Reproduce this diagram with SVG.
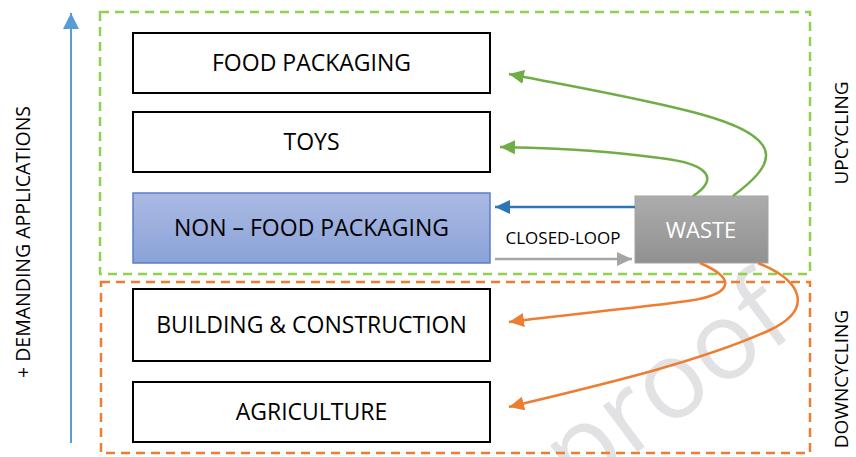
<svg xmlns="http://www.w3.org/2000/svg" width="856" height="457" viewBox="0 0 856 457">
  <defs>
    <linearGradient id="gradBlue" x1="0" y1="0" x2="0" y2="1">
      <stop offset="0" stop-color="#abbae3"/>
      <stop offset="1" stop-color="#8aa2d8"/>
    </linearGradient>
    <linearGradient id="gradGray" x1="0" y1="0" x2="0" y2="1">
      <stop offset="0" stop-color="#acacac"/>
      <stop offset="1" stop-color="#919191"/>
    </linearGradient>
    <marker id="headGreen" markerUnits="userSpaceOnUse" markerWidth="16" markerHeight="14" refX="15" refY="7" orient="auto">
      <path d="M0,0 L15,7 L0,14 Z" fill="#70ad47"/>
    </marker>
    <marker id="headOrange" markerUnits="userSpaceOnUse" markerWidth="16" markerHeight="14" refX="15" refY="7" orient="auto">
      <path d="M0,0 L15,7 L0,14 Z" fill="#ed7d31"/>
    </marker>
    <marker id="headBlue" markerUnits="userSpaceOnUse" markerWidth="16" markerHeight="14" refX="15" refY="7" orient="auto">
      <path d="M0,0 L15,7 L0,14 Z" fill="#2e75b6"/>
    </marker>
    <marker id="headGray" markerUnits="userSpaceOnUse" markerWidth="16" markerHeight="14" refX="15" refY="7" orient="auto">
      <path d="M0,0 L15,7 L0,14 Z" fill="#a5a5a5"/>
    </marker>
    <marker id="headAxis" markerUnits="userSpaceOnUse" markerWidth="18" markerHeight="16" refX="16" refY="8" orient="auto">
      <path d="M0,0 L16,8 L0,16 Z" fill="#5b9bd5"/>
    </marker>
  </defs>
  <style>
    text { font-family: "Open Sans", "Noto Sans", "Liberation Sans", sans-serif; fill: #000; }
    .box { fill: #ffffff; stroke: #000000; stroke-width: 2; }
    .label { font-size: 23px; text-anchor: middle; dominant-baseline: central; }
    .side { font-size: 19px; text-anchor: middle; dominant-baseline: central; }
    .zone { fill: none; stroke-width: 2.5; stroke-dasharray: 9 6; }
    .link { fill: none; stroke-width: 2.5; }
  </style>

  <rect width="856" height="457" fill="#ffffff"/>

  <!-- faint background watermark -->
  <text x="688" y="414" transform="rotate(-37 688 414)" text-anchor="middle" style="font-size:108px; fill:#e2e2e4;">proof</text>

  <!-- upcycling / downcycling zones -->
  <g id="zones">
    <rect class="zone" x="100" y="12" width="710" height="262" stroke="#92d050"/>
    <rect class="zone" x="101" y="282" width="709" height="171" stroke="#ed7d31"/>
  </g>

  <!-- vertical axis -->
  <g id="axis">
    <line x1="71" y1="443" x2="71" y2="13" stroke="#5b9bd5" stroke-width="2" marker-end="url(#headAxis)"/>
    <text class="side" x="22" y="242" transform="rotate(-90 22 242)" style="font-size:19.5px;">+ DEMANDING APPLICATIONS</text>
  </g>

  <g id="food-packaging">
    <rect class="box" x="133" y="33" width="357" height="60"/>
    <text class="label" x="311.5" y="62">FOOD PACKAGING</text>
  </g>
  <g id="toys">
    <rect class="box" x="133" y="112" width="357" height="60"/>
    <text class="label" x="311.5" y="141">TOYS</text>
  </g>
  <g id="non-food-packaging">
    <rect x="133" y="193" width="357" height="70" fill="url(#gradBlue)" stroke="#5b7ec8" stroke-width="1.5"/>
    <text class="label" x="311.5" y="227">NON – FOOD PACKAGING</text>
  </g>
  <g id="building-construction">
    <rect class="box" x="133" y="289" width="357" height="72"/>
    <text class="label" x="311.5" y="324">BUILDING &amp; CONSTRUCTION</text>
  </g>
  <g id="agriculture">
    <rect class="box" x="133" y="382" width="357" height="60"/>
    <text class="label" x="311.5" y="411">AGRICULTURE</text>
  </g>
  <g id="waste">
    <rect x="635" y="196" width="133" height="67" fill="url(#gradGray)" stroke="#a3a3a3" stroke-width="1"/>
    <text class="label" x="701" y="229" style="fill:#ffffff; font-size:22px;">WASTE</text>
  </g>

  <g id="zone-labels">
    <text class="side" x="841" y="133" transform="rotate(-90 841 133)">UPCYCLING</text>
    <text class="side" x="841" y="379" transform="rotate(-90 841 379)">DOWNCYCLING</text>
  </g>

  <g id="connectors">
    <path class="link" d="M733,196 C770,168 795,140 700,114 C640,98 580,88 509,74" stroke="#70ad47" marker-end="url(#headGreen)"/>
    <path class="link" d="M693,196 C718,180 712,164 660,158 C610,151 560,148 500,147" stroke="#70ad47" marker-end="url(#headGreen)"/>
    <line class="link" x1="635" y1="207" x2="495" y2="207" stroke="#2e75b6" marker-end="url(#headBlue)"/>
    <line class="link" x1="495" y1="259" x2="632" y2="259" stroke="#a5a5a5" marker-end="url(#headGray)"/>
    <text x="563" y="244" text-anchor="middle" style="font-size:17px;">CLOSED-LOOP</text>
    <path class="link" d="M700,263 C740,280 732,296 680,302 C620,310 560,315 509,322" stroke="#ed7d31" marker-end="url(#headOrange)"/>
    <path class="link" d="M758,263 C805,282 812,310 770,330 C700,362 600,385 509,407" stroke="#ed7d31" marker-end="url(#headOrange)"/>
  </g>
</svg>
